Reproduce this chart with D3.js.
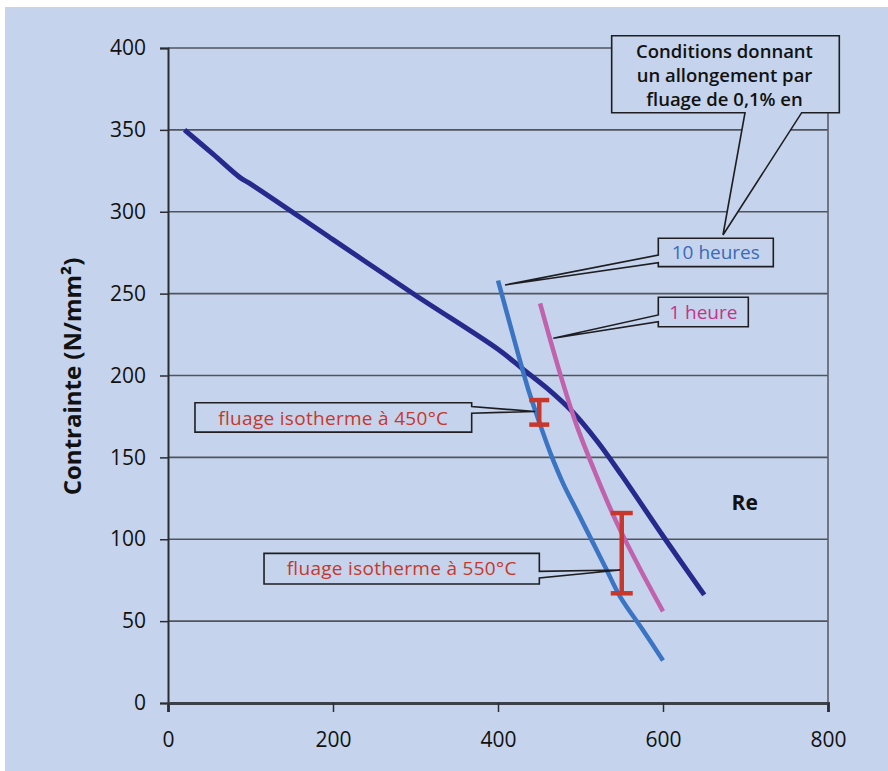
<!DOCTYPE html>
<html>
<head>
<meta charset="utf-8">
<script src="https://cdn.jsdelivr.net/npm/d3@7"></script>
<style>
  html, body { margin: 0; padding: 0; background: #ffffff; }
  svg { display: block; }
  text { font-family: "Open Sans", "Noto Sans", sans-serif; }
</style>
</head>
<body>
<svg id="chart" width="888" height="771"></svg>
<script>
// Température (°C) / contrainte (N/mm²)
const reTemp   = [20, 55, 87, 100, 200, 300, 400, 430, 460, 490, 520, 550, 600, 650];
const reStress = [350, 335, 321, 317, 283, 249, 216, 204, 192, 178, 160, 139, 102, 66];

const h10Temp   = [400, 412, 425, 437, 449, 464, 479, 495, 512, 530, 548, 575, 600];
const h10Stress = [258, 236, 212, 191, 173, 152, 134, 118, 101, 83, 65, 45, 26];

const h1Temp   = [451, 473, 495, 520, 544, 570, 600];
const h1Stress = [244, 205, 170, 138, 110, 84, 56];

// Plages de fluage isotherme
const rangeTemp = [450, 550];
const rangeLow  = [170, 67];
const rangeHigh = [185, 116];

const xTicks = [0, 200, 400, 600, 800];
const yTicks = [0, 50, 100, 150, 200, 250, 300, 350, 400];

const svg = d3.select("#chart");
const W = 888, H = 771;

// fond
svg.append("rect").attr("x", 5).attr("y", 7).attr("width", W - 5).attr("height", H - 7)
  .attr("fill", "#c5d4ec");

const x = d3.scaleLinear().domain([0, 800]).range([168, 828]);
const y = d3.scaleLinear().domain([0, 400]).range([703, 48]);

// quadrillage horizontal
svg.append("g").selectAll("line").data(yTicks.filter(d => d > 0)).join("line")
  .attr("x1", x(0)).attr("x2", x(800))
  .attr("y1", d => y(d)).attr("y2", d => y(d))
  .attr("stroke", "#50545e").attr("stroke-width", 1.6);

// bord droit
svg.append("line").attr("x1", x(800)).attr("x2", x(800)).attr("y1", y(400)).attr("y2", y(0))
  .attr("stroke", "#5a5e68").attr("stroke-width", 1.6);

// axes
const yAxis = d3.axisLeft(y).tickValues(yTicks).tickSize(8).tickPadding(14).tickFormat(d3.format("d"));
const gy = svg.append("g").attr("transform", `translate(${x(0)},0)`).call(yAxis);
const xAxis = d3.axisBottom(x).tickValues(xTicks).tickSize(9).tickPadding(20).tickFormat(d3.format("d"));
const gx = svg.append("g").attr("transform", `translate(0,${y(0)})`).call(xAxis);
[gx, gy].forEach(g => {
  g.select(".domain").attr("stroke", "#2a2c33").attr("stroke-width", 2);
  g.selectAll(".tick line").attr("stroke", "#2a2c33").attr("stroke-width", 1.5);
  g.selectAll(".tick text").attr("font-family", "'Open Sans', sans-serif")
    .attr("font-size", 21).attr("fill", "#111");
});
gx.select(".domain").attr("stroke-width", 3).attr("stroke", "#3c4049");

// titre de l'axe vertical
svg.append("text")
  .attr("transform", `translate(81,${(y(0) + y(400)) / 2 + 1}) rotate(-90)`)
  .attr("text-anchor", "middle")
  .attr("font-size", 24).attr("font-weight", 700).attr("fill", "#111")
  .text("Contrainte (N/mm²)");

// courbes
const line = d3.line().x(d => x(d[0])).y(d => y(d[1])).curve(d3.curveCatmullRom.alpha(0.5));
const series = [
  { t: reTemp,  s: reStress,  color: "#262a8c", w: 5 },
  { t: h10Temp, s: h10Stress, color: "#3b74c2", w: 4.5 },
  { t: h1Temp,  s: h1Stress,  color: "#c062ac", w: 4.5 }
];

// bulles d'annotation : cadre + pointe
function callout(b) {
  const x0 = x(b.x0), x1 = x(b.x1), y0 = y(b.y0), y1 = y(b.y1);
  const tx = x(b.tip[0]), ty = y(b.tip[1]);
  let pts;
  if (b.side === "bottom") {
    const a = x(b.a[0]), c = x(b.a[1]);
    pts = [[x0, y0], [x1, y0], [x1, y1], [c, y1], [tx, ty], [a, y1], [x0, y1]];
  } else if (b.side === "left") {
    const a = y(b.a[0]), c = y(b.a[1]);
    pts = [[x0, y0], [x1, y0], [x1, y1], [x0, y1], [x0, c], [tx, ty], [x0, a]];
  } else {
    const a = y(b.a[0]), c = y(b.a[1]);
    pts = [[x0, y0], [x1, y0], [x1, a], [tx, ty], [x1, c], [x1, y1], [x0, y1]];
  }
  svg.append("path").attr("d", "M" + pts.map(p => p.join(",")).join("L") + "Z")
    .attr("fill", "#c5d4ec").attr("stroke", "#1e1e22").attr("stroke-width", 1.6)
    .attr("stroke-linejoin", "miter");
  const cx = (x0 + x1) / 2;
  b.lines.forEach((l, i) => {
    svg.append("text").attr("x", cx + (b.dx || 0)).attr("y", y0 + b.base + i * b.lh)
      .attr("text-anchor", "middle").attr("font-size", b.size)
      .attr("letter-spacing", b.ls || 0)
      .attr("font-weight", b.weight || 400).attr("fill", b.color).text(l);
  });
}

// trace les courbes
series.forEach(sr => {
  svg.append("path").datum(sr.t.map((t, i) => [t, sr.s[i]]))
    .attr("d", line).attr("fill", "none")
    .attr("stroke", sr.color).attr("stroke-width", sr.w)
    .attr("stroke-linejoin", "round");
});

// barres de plage (rouge)
rangeTemp.forEach((t, i) => {
  const g = svg.append("g").attr("stroke", "#c8372b").attr("stroke-width", 4.5);
  const cx = x(t), half = i === 0 ? 10 : 11;
  g.append("line").attr("x1", cx).attr("x2", cx).attr("y1", y(rangeLow[i])).attr("y2", y(rangeHigh[i]));
  g.append("line").attr("x1", cx - half).attr("x2", cx + half).attr("y1", y(rangeLow[i])).attr("y2", y(rangeLow[i]));
  g.append("line").attr("x1", cx - half).attr("x2", cx + half).attr("y1", y(rangeHigh[i])).attr("y2", y(rangeHigh[i]));
});

// annotations
callout({ x0: 32.7, x1: 368.1, y0: 183.4, y1: 165.4, side: "right", a: [181, 177], tip: [445, 178],
  lines: ["fluage isotherme à 450°C"], size: 19, ls: 0.3, color: "#c8372b", base: 22, lh: 0 });
callout({ x0: 116.4, x1: 450.1, y0: 91.4, y1: 72.7, side: "right", a: [80.4, 76.3], tip: [548, 81.2],
  lines: ["fluage isotherme à 550°C"], size: 19, ls: 0.3, color: "#c8372b", base: 22, lh: 0 });
callout({ x0: 594.3, x1: 733.7, y0: 283.8, y1: 266.5, side: "left", a: [273.6, 268.9], tip: [408.5, 255.3],
  lines: ["10 heures"], size: 19, color: "#3b6ab8", base: 21, lh: 0 });
callout({ x0: 594.3, x1: 703.4, y0: 247.8, y1: 229.8, side: "left", a: [237, 232.9], tip: [467, 222.7],
  lines: ["1 heure"], size: 19, color: "#c2338a", base: 22, lh: 0 });
callout({ x0: 537.8, x1: 813.7, y0: 407.5, y1: 360.5, side: "bottom", a: [699.4, 768.1], tip: [672.7, 285.8],
  lines: ["Conditions donnant", "un allongement  par", "fluage de 0,1%  en"], size: 18.5, weight: 600,
  color: "#111", base: 22, lh: 24, dx: -1 });

// Re
svg.append("text").attr("x", x(699)).attr("y", y(122) + 7).attr("text-anchor", "middle")
  .attr("font-size", 21).attr("font-weight", 700).attr("fill", "#111").text("Re");
</script>
</body>
</html>
